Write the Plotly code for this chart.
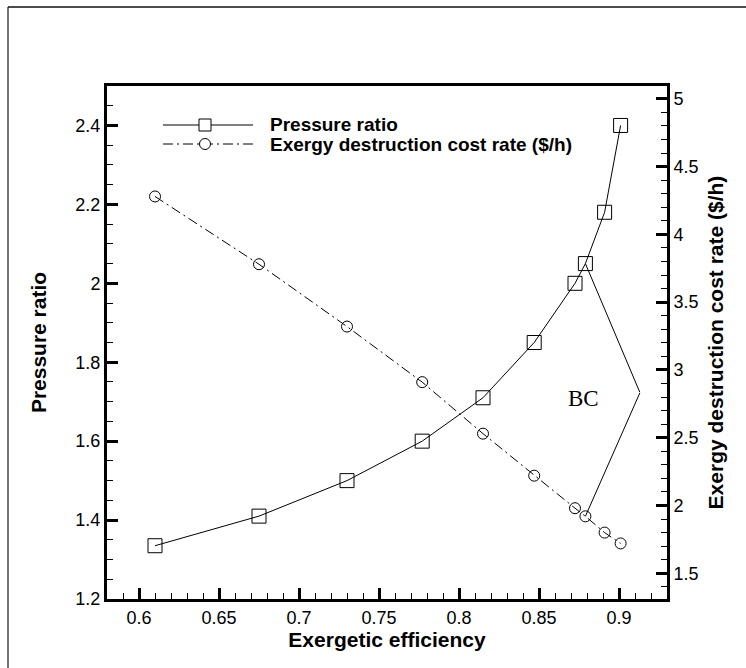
import plotly.graph_objects as go

# ---- data ----
efficiency = [0.61, 0.675, 0.73, 0.777, 0.815, 0.847, 0.8725, 0.879, 0.891, 0.901]
pressure_ratio = [1.335, 1.41, 1.50, 1.60, 1.71, 1.85, 2.00, 2.05, 2.18, 2.40]
cost_rate = [4.28, 3.78, 3.32, 2.91, 2.53, 2.22, 1.98, 1.92, 1.80, 1.72]

# "BC" bracket apex (efficiency, pressure-ratio units, cost units)
bc_apex_eff = 0.913
bc_apex_pr = 1.724
bc_apex_cost = 2.83
bc_index = 7

FONT = "Arial, 'Liberation Sans', sans-serif"

fig = go.Figure()

fig.add_trace(go.Scatter(
    x=efficiency, y=pressure_ratio, mode="lines+markers", name="Pressure ratio",
    line=dict(color="black", width=1),
    marker=dict(symbol="square-open", size=14, color="black", line=dict(width=1)),
    yaxis="y", showlegend=False))

fig.add_trace(go.Scatter(
    x=efficiency, y=cost_rate, mode="lines+markers", name="Exergy destruction cost rate ($/h)",
    line=dict(color="black", width=1, dash="10px,4px,2px,4px"),
    marker=dict(symbol="circle-open", size=11, color="black", line=dict(width=1)),
    yaxis="y2", showlegend=False))

# BC bracket lines
fig.add_trace(go.Scatter(
    x=[efficiency[bc_index], bc_apex_eff], y=[pressure_ratio[bc_index], bc_apex_pr],
    mode="lines", line=dict(color="black", width=1), yaxis="y", showlegend=False,
    hoverinfo="skip"))
fig.add_trace(go.Scatter(
    x=[bc_apex_eff, efficiency[bc_index]], y=[bc_apex_cost, cost_rate[bc_index]],
    mode="lines", line=dict(color="black", width=1), yaxis="y2", showlegend=False,
    hoverinfo="skip"))

W, H = 746, 668
L, R, T, B = 107, 79, 86, 69
pw, ph = W - L - R, H - T - B

def px(xpix):
    return (xpix - L) / pw

def py(ypix):
    return 1 - (ypix - T) / ph

axis_common = dict(
    showline=True, linecolor="black", linewidth=3,
    ticks="inside", ticklen=11, tickwidth=2.5, tickcolor="black",
    showgrid=False, zeroline=False,
    tickfont=dict(family=FONT, size=18, color="black"),
)

shapes = []
# outer frame
shapes.append(dict(type="line", xref="paper", yref="paper",
                   x0=px(8), x1=px(8), y0=py(680), y1=py(7),
                   line=dict(color="#444444", width=1.5)))
shapes.append(dict(type="line", xref="paper", yref="paper",
                   x0=px(8), x1=px(760), y0=py(7), y1=py(7),
                   line=dict(color="#111111", width=1.5)))

# custom legend
row1, row2 = py(125), py(144)
lx0, lx1, lmx = px(163), px(253), px(205)
shapes.append(dict(type="line", xref="paper", yref="paper", x0=lx0, x1=lx1, y0=row1, y1=row1,
                   line=dict(color="black", width=1)))
shapes.append(dict(type="line", xref="paper", yref="paper", x0=lx0, x1=lx1, y0=row2, y1=row2,
                   line=dict(color="black", width=1, dash="10px,4px,2px,4px")))
shapes.append(dict(type="rect", xref="paper", yref="paper", xsizemode="pixel", ysizemode="pixel",
                   xanchor=lmx, yanchor=row1, x0=-6, x1=6, y0=-6, y1=6,
                   fillcolor="white", line=dict(color="black", width=1)))
shapes.append(dict(type="circle", xref="paper", yref="paper", xsizemode="pixel", ysizemode="pixel",
                   xanchor=lmx, yanchor=row2, x0=-5.5, x1=5.5, y0=-5.5, y1=5.5,
                   fillcolor="white", line=dict(color="black", width=1)))

annotations = [
    dict(x=px(268), y=row1, xref="paper", yref="paper", xanchor="left", yanchor="middle",
         text="<b>Pressure ratio</b>", showarrow=False,
         font=dict(family=FONT, size=19, color="black")),
    dict(x=px(268), y=row2, xref="paper", yref="paper", xanchor="left", yanchor="middle",
         text="<b>Exergy destruction cost rate ($/h)</b>", showarrow=False,
         font=dict(family=FONT, size=19, color="black")),
    dict(x=0.8775, y=1.708, xref="x", yref="y", xanchor="center", yanchor="middle",
         text="BC", showarrow=False,
         font=dict(family="'Liberation Serif', 'Times New Roman', serif", size=23, color="black")),
]

fig.update_layout(
    width=W, height=H,
    margin=dict(l=L, r=R, t=T, b=B),
    paper_bgcolor="white", plot_bgcolor="white",
    showlegend=False,
    xaxis=dict(range=[0.58, 0.93], tick0=0.6, dtick=0.05, mirror=True,
               minor=dict(dtick=0.01, ticks="inside", ticklen=6, tickwidth=1.2, tickcolor="black"),
               title=dict(text="<b>Exergetic efficiency</b>", standoff=4,
                          font=dict(family=FONT, size=21, color="black")),
               **axis_common),
    yaxis=dict(range=[1.2, 2.5], tick0=1.2, dtick=0.2,
               minor=dict(dtick=0.05, ticks="inside", ticklen=6, tickwidth=1.2, tickcolor="black"),
               title=dict(text="<b>Pressure ratio</b>", standoff=24,
                          font=dict(family=FONT, size=21, color="black")),
               **axis_common),
    yaxis2=dict(range=[1.31, 5.095], tick0=1.5, dtick=0.5, overlaying="y", side="right",
                minor=dict(dtick=0.1, ticks="inside", ticklen=6, tickwidth=1.2, tickcolor="black"),
                title=dict(text="<b>Exergy destruction cost rate ($/h)</b>", standoff=11,
                           font=dict(family=FONT, size=21, color="black")),
                **axis_common),
    shapes=shapes,
    annotations=annotations,
)

fig.write_html("out.html")
